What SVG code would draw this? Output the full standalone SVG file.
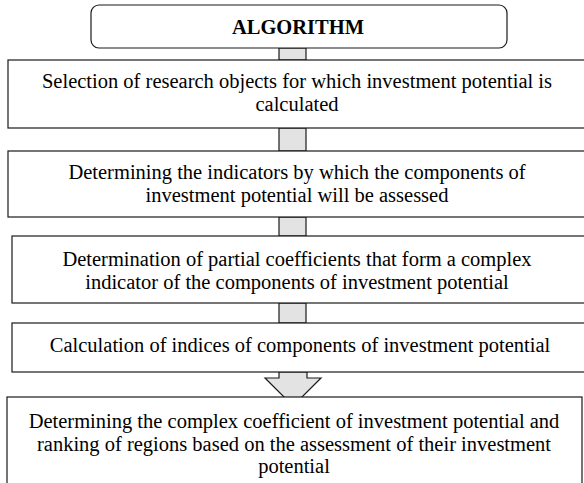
<svg xmlns="http://www.w3.org/2000/svg" width="584" height="483" viewBox="0 0 584 483">
<style>
.box{fill:#fff;stroke:#1a1a1a;stroke-width:1.2}
.bar{fill:#e3e3e3;stroke:#1a1a1a;stroke-width:1.2}
text{font-family:"Liberation Serif","Times New Roman",serif;font-size:20.5px;fill:#000;text-anchor:middle}
.b{font-weight:bold}
</style>
<g id="connectors">
<rect class="bar" x="279" y="48" width="27" height="12"/>
<rect class="bar" x="279" y="128" width="27" height="23"/>
<rect class="bar" x="279" y="217" width="27" height="19"/>
<rect class="bar" x="279" y="303" width="27" height="20"/>
<polygon class="bar" points="279,372 307,372 307,378 321,378 293,406 265,378 279,378"/>
</g>
<g id="n0">
<rect class="box" x="91" y="5" width="416" height="43" rx="8"/>
<text class="b" x="298" y="34">ALGORITHM</text>
</g>
<g id="n1">
<rect class="box" x="8" y="60" width="582" height="68"/>
<text x="297" y="88">Selection of research objects for which investment potential is</text>
<text x="297" y="111">calculated</text>
</g>
<g id="n2">
<rect class="box" x="8" y="151" width="582" height="66"/>
<text x="297" y="179">Determining the indicators by which the components of</text>
<text x="297" y="202">investment potential will be assessed</text>
</g>
<g id="n3">
<rect class="box" x="12" y="236" width="578" height="67"/>
<text x="297" y="266">Determination of partial coefficients that form a complex</text>
<text x="297" y="288.5">indicator of the components of investment potential</text>
</g>
<g id="n4">
<rect class="box" x="12" y="323" width="578" height="49"/>
<text x="300" y="352">Calculation of indices of components of investment potential</text>
</g>
<g id="n5">
<rect class="box" x="7" y="397" width="575" height="90"/>
<text x="294" y="428">Determining the complex coefficient of investment potential and</text>
<text x="294" y="450.5">ranking of regions based on the assessment of their investment</text>
<text x="294" y="473">potential</text>
</g>
</svg>
